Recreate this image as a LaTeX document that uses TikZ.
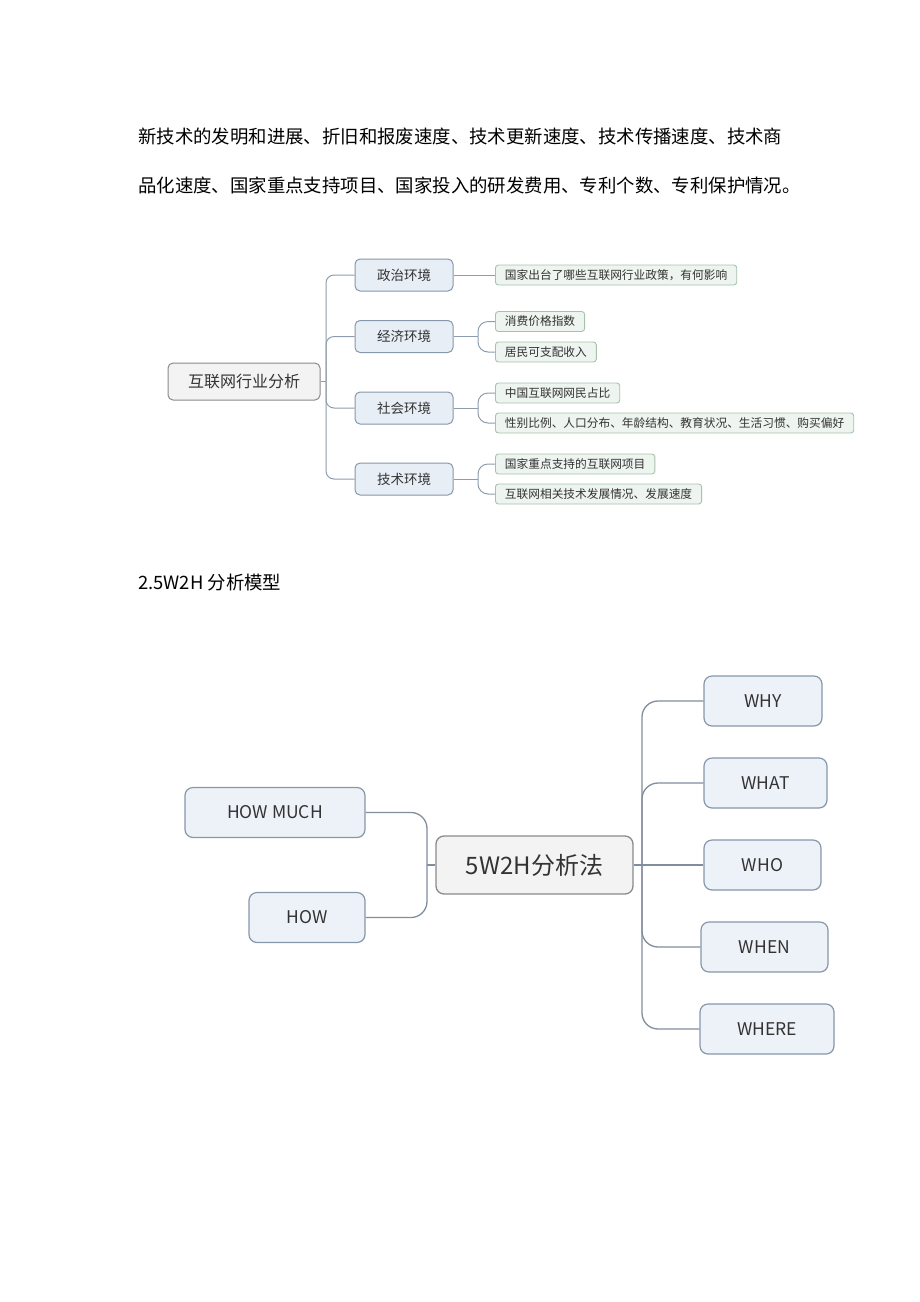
\documentclass[tikz,border=0pt]{standalone}
\usepackage{fontspec}
\setmainfont{Noto Sans CJK SC}
\usetikzlibrary{positioning}

\definecolor{inkgray}{HTML}{333333}
\definecolor{linkgray}{HTML}{8E9DAD}
\definecolor{rootfill}{HTML}{F3F3F3}
\definecolor{rootdraw}{HTML}{8A8A8A}
\definecolor{branchfill}{HTML}{E8EEF6}
\definecolor{branchdraw}{HTML}{8797AB}
\definecolor{leaffill}{HTML}{EEF4EF}
\definecolor{leafdraw}{HTML}{A6C2AC}

\tikzset{
  bodytext/.style={anchor=west, inner sep=0pt, text=black, font=\fontsize{18.4}{22}\selectfont},
  linkline/.style={draw=linkgray, line width=1pt},
  rootbox/.style={draw=rootdraw, fill=rootfill, line width=1pt, rounded corners=5pt,
    minimum width=152pt, minimum height=37pt, inner sep=0pt, text=inkgray,
    font=\fontsize{16}{18}\selectfont},
  branchbox/.style={draw=branchdraw, fill=branchfill, line width=1pt, rounded corners=5pt,
    minimum width=98pt, minimum height=32pt, inner sep=0pt, text=inkgray,
    font=\fontsize{13.5}{16}\selectfont},
  leafbox/.style={draw=leafdraw, fill=leaffill, line width=0.9pt, rounded corners=3pt,
    anchor=west, minimum height=20pt, inner xsep=9.5pt, inner ysep=0pt, text=inkgray,
    font=\fontsize{11.7}{13}\selectfont},
  hubbox/.style={draw=rootdraw, fill=rootfill, line width=1.3pt, rounded corners=8pt,
    minimum width=197pt, minimum height=58pt, inner sep=0pt, text=inkgray,
    font=\fontsize{24}{28}\selectfont},
  wbox/.style={draw=branchdraw, fill=branchfill!80, line width=1.2pt, rounded corners=8pt,
    minimum height=50pt, inner sep=0pt, text=inkgray,
    font=\fontsize{17.5}{20}\selectfont},
  wlink/.style={draw=linkgray!90!black, line width=1.3pt},
}

\begin{document}
\begin{tikzpicture}[x=1pt, y=-1pt]
  \useasboundingbox (0,0) rectangle (920,1302);

  % text above the first map
  \node[bodytext] (line1) at (138,137) {新技术的发明和进展、折旧和报废速度、技术更新速度、技术传播速度、技术商};
  \node[bodytext] (line2) at (138,185) {品化速度、国家重点支持项目、国家投入的研发费用、专利个数、专利保护情况。};

  % first map
  \node[rootbox] (web) at (244,381.5) {互联网行业分析};
  \node[branchbox] (politic) at (404,275) {政治环境};
  \node[branchbox] (economy) at (404,336.5) {经济环境};
  \node[branchbox] (society) at (404,408) {社会环境};
  \node[branchbox] (tech) at (404,479) {技术环境};

  \node[leafbox] (policy) at (495,275) {国家出台了哪些互联网行业政策，有何影响};
  \node[leafbox] (cpi) at (495,321.5) {消费价格指数};
  \node[leafbox] (income) at (495,352) {居民可支配收入};
  \node[leafbox] (netizen) at (495,393) {中国互联网网民占比};
  \node[leafbox] (people) at (495,423) {性别比例、人口分布、年龄结构、教育状况、生活习惯、购买偏好};
  \node[leafbox] (project) at (495,464) {国家重点支持的互联网项目};
  \node[leafbox] (progress) at (495,494) {互联网相关技术发展情况、发展速度};

  \coordinate (jweb) at (326,381.5);
  \draw[linkline] (web.east) -- (jweb);
  \draw[linkline, rounded corners=8pt] (jweb) |- (politic.west);
  \draw[linkline, rounded corners=8pt] (jweb) |- (economy.west);
  \draw[linkline, rounded corners=8pt] (jweb) |- (society.west);
  \draw[linkline, rounded corners=8pt] (jweb) |- (tech.west);

  \coordinate (jeco) at (478,336.5);
  \coordinate (jsoc) at (478,408);
  \coordinate (jtech) at (478,479);
  \draw[linkline] (politic.east) -- (policy.west);
  \draw[linkline] (economy.east) -- (jeco);
  \draw[linkline] (society.east) -- (jsoc);
  \draw[linkline] (tech.east) -- (jtech);
  \draw[linkline, rounded corners=10pt] (jeco) |- (cpi.west);
  \draw[linkline, rounded corners=10pt] (jeco) |- (income.west);
  \draw[linkline, rounded corners=10pt] (jsoc) |- (netizen.west);
  \draw[linkline, rounded corners=10pt] (jsoc) |- (people.west);
  \draw[linkline, rounded corners=10pt] (jtech) |- (project.west);
  \draw[linkline, rounded corners=10pt] (jtech) |- (progress.west);

  % heading of the second map
  \node[bodytext] (title) at (138,583) {2.5W2H 分析模型};

  % second map
  \node[hubbox] (hub) at (534.5,865) {5W2H分析法};
  \node[wbox, minimum width=180pt] (howmuch) at (275,812.5) {HOW MUCH};
  \node[wbox, minimum width=116pt] (how) at (307,917.5) {HOW};
  \node[wbox, minimum width=118pt] (why) at (763,701) {WHY};
  \node[wbox, minimum width=123pt] (what) at (765.5,783) {WHAT};
  \node[wbox, minimum width=117pt] (who) at (762.5,865) {WHO};
  \node[wbox, minimum width=127pt] (when) at (764.5,947) {WHEN};
  \node[wbox, minimum width=134pt] (where) at (767,1029) {WHERE};

  \coordinate (jleft) at (427,865);
  \coordinate (jright) at (642,865);
  \draw[wlink] (hub.west) -- (jleft);
  \draw[wlink, rounded corners=16pt] (jleft) |- (howmuch.east);
  \draw[wlink, rounded corners=16pt] (jleft) |- (how.east);
  \draw[wlink] (hub.east) -- (who.west);
  \draw[wlink, rounded corners=16pt] (jright) |- (why.west);
  \draw[wlink, rounded corners=16pt] (jright) |- (what.west);
  \draw[wlink, rounded corners=16pt] (jright) |- (when.west);
  \draw[wlink, rounded corners=16pt] (jright) |- (where.west);
\end{tikzpicture}
\end{document}
